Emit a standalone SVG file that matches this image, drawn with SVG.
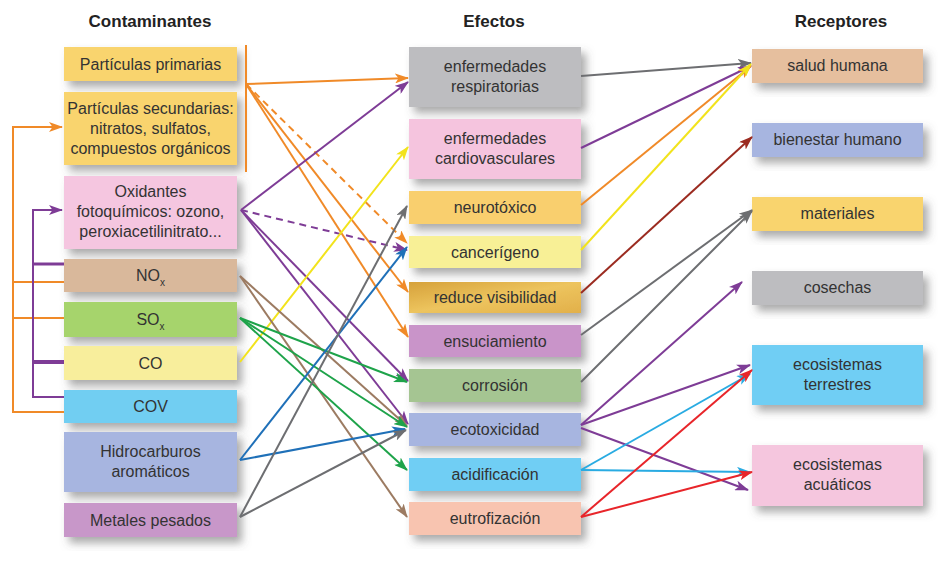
<svg xmlns="http://www.w3.org/2000/svg" width="944" height="566" viewBox="0 0 944 566">
<defs>
<style>
.box{filter:url(#sh)}
.t{font-family:"Liberation Sans",Arial,sans-serif;font-size:16px;fill:#333;text-anchor:middle}
.h{font-family:"Liberation Sans",Arial,sans-serif;font-size:17px;font-weight:bold;fill:#222;text-anchor:middle}
.sub{font-size:10px}
#conn path,#conn line{fill:none;stroke-width:2}
.dash{stroke-dasharray:7 5}
</style>
<filter id="sh" x="-10%" y="-20%" width="130%" height="160%">
<feDropShadow dx="5" dy="6" stdDeviation="4" flood-color="#555" flood-opacity="0.5"/>
</filter>
<linearGradient id="gold" x1="0" y1="0" x2="1" y2="1">
<stop offset="0" stop-color="#D6A13A"/>
<stop offset="0.5" stop-color="#EDC45E"/>
<stop offset="1" stop-color="#E2B04A"/>
</linearGradient>
<marker id="aO" viewBox="0 0 14 10" refX="13" refY="5" markerWidth="14" markerHeight="10" markerUnits="userSpaceOnUse" orient="auto"><path d="M0,0 L14,5 L0,10 L3.5,5 z" fill="#F08A28"/></marker>
<marker id="aP" viewBox="0 0 14 10" refX="13" refY="5" markerWidth="14" markerHeight="10" markerUnits="userSpaceOnUse" orient="auto"><path d="M0,0 L14,5 L0,10 L3.5,5 z" fill="#7E3C96"/></marker>
<marker id="aY" viewBox="0 0 14 10" refX="13" refY="5" markerWidth="14" markerHeight="10" markerUnits="userSpaceOnUse" orient="auto"><path d="M0,0 L14,5 L0,10 L3.5,5 z" fill="#F2E31C"/></marker>
<marker id="aB" viewBox="0 0 14 10" refX="13" refY="5" markerWidth="14" markerHeight="10" markerUnits="userSpaceOnUse" orient="auto"><path d="M0,0 L14,5 L0,10 L3.5,5 z" fill="#9C7B62"/></marker>
<marker id="aG" viewBox="0 0 14 10" refX="13" refY="5" markerWidth="14" markerHeight="10" markerUnits="userSpaceOnUse" orient="auto"><path d="M0,0 L14,5 L0,10 L3.5,5 z" fill="#1EA34A"/></marker>
<marker id="aN" viewBox="0 0 14 10" refX="13" refY="5" markerWidth="14" markerHeight="10" markerUnits="userSpaceOnUse" orient="auto"><path d="M0,0 L14,5 L0,10 L3.5,5 z" fill="#1F70B8"/></marker>
<marker id="aK" viewBox="0 0 14 10" refX="13" refY="5" markerWidth="14" markerHeight="10" markerUnits="userSpaceOnUse" orient="auto"><path d="M0,0 L14,5 L0,10 L3.5,5 z" fill="#6D6E71"/></marker>
<marker id="aD" viewBox="0 0 14 10" refX="13" refY="5" markerWidth="14" markerHeight="10" markerUnits="userSpaceOnUse" orient="auto"><path d="M0,0 L14,5 L0,10 L3.5,5 z" fill="#9B2B20"/></marker>
<marker id="aL" viewBox="0 0 14 10" refX="13" refY="5" markerWidth="14" markerHeight="10" markerUnits="userSpaceOnUse" orient="auto"><path d="M0,0 L14,5 L0,10 L3.5,5 z" fill="#29ABE2"/></marker>
<marker id="aR" viewBox="0 0 14 10" refX="13" refY="5" markerWidth="14" markerHeight="10" markerUnits="userSpaceOnUse" orient="auto"><path d="M0,0 L14,5 L0,10 L3.5,5 z" fill="#E8252A"/></marker>
</defs>
<rect width="944" height="566" fill="#ffffff"/>

<g id="headers">
<text class="h" x="150" y="27">Contaminantes</text>
<text class="h" x="494" y="27">Efectos</text>
<text class="h" x="841" y="27">Receptores</text>
</g>

<!-- Contaminantes -->
<g id="particulas-primarias"><rect class="box" x="64" y="47" width="173" height="34" fill="#F9D46E"/><text class="t" x="150.5" y="69.5">Partículas primarias</text></g>
<g id="particulas-secundarias"><rect class="box" x="64" y="92" width="173" height="73" fill="#F9D46E"/><text class="t" x="150.5" y="114">Partículas secundarias:</text><text class="t" x="150.5" y="134">nitratos, sulfatos,</text><text class="t" x="150.5" y="154">compuestos orgánicos</text></g>
<g id="oxidantes"><rect class="box" x="64" y="176" width="173" height="73" fill="#F5C6E0"/><text class="t" x="150.5" y="197">Oxidantes</text><text class="t" x="150.5" y="217">fotoquímicos: ozono,</text><text class="t" x="150.5" y="237">peroxiacetilinitrato...</text></g>
<g id="nox"><rect class="box" x="64" y="259" width="173" height="33" fill="#D9B89B"/><text class="t" x="150.5" y="281">NO<tspan class="sub" dy="5">x</tspan></text></g>
<g id="sox"><rect class="box" x="64" y="302" width="173" height="35" fill="#A6D46C"/><text class="t" x="150.5" y="325">SO<tspan class="sub" dy="5">x</tspan></text></g>
<g id="co"><rect class="box" x="64" y="346" width="173" height="34" fill="#F8EE9C"/><text class="t" x="150.5" y="369">CO</text></g>
<g id="cov"><rect class="box" x="64" y="390" width="173" height="33" fill="#71CEF2"/><text class="t" x="150.5" y="412">COV</text></g>
<g id="hidrocarburos"><rect class="box" x="64" y="432" width="173" height="60" fill="#A7B5E0"/><text class="t" x="150.5" y="457">Hidrocarburos</text><text class="t" x="150.5" y="477">aromáticos</text></g>
<g id="metales"><rect class="box" x="64" y="503" width="173" height="34" fill="#C897C9"/><text class="t" x="150.5" y="526">Metales pesados</text></g>

<!-- Efectos -->
<g id="enf-resp"><rect class="box" x="409" y="47" width="172" height="60" fill="#BDBDC0"/><text class="t" x="495" y="72">enfermedades</text><text class="t" x="495" y="92">respiratorias</text></g>
<g id="enf-cardio"><rect class="box" x="409" y="119" width="172" height="60" fill="#F5C4DE"/><text class="t" x="495" y="144">enfermedades</text><text class="t" x="495" y="164">cardiovasculares</text></g>
<g id="neurotoxico"><rect class="box" x="409" y="191" width="172" height="33" fill="#F9CF6E"/><text class="t" x="495" y="213">neurotóxico</text></g>
<g id="cancerigeno"><rect class="box" x="409" y="236" width="172" height="32" fill="#F8F096"/><text class="t" x="495" y="258">cancerígeno</text></g>
<g id="reduce-visibilidad"><rect class="box" x="409" y="282" width="172" height="31" fill="url(#gold)"/><text class="t" x="495" y="303">reduce visibilidad</text></g>
<g id="ensuciamiento"><rect class="box" x="409" y="325" width="172" height="32" fill="#C994C9"/><text class="t" x="495" y="347">ensuciamiento</text></g>
<g id="corrosion"><rect class="box" x="409" y="369" width="172" height="33" fill="#A5C592"/><text class="t" x="495" y="391">corrosión</text></g>
<g id="ecotoxicidad"><rect class="box" x="409" y="413" width="172" height="33" fill="#A7B5E0"/><text class="t" x="495" y="435">ecotoxicidad</text></g>
<g id="acidificacion"><rect class="box" x="409" y="458" width="172" height="33" fill="#6FCEF4"/><text class="t" x="495" y="480">acidificación</text></g>
<g id="eutrofizacion"><rect class="box" x="409" y="502" width="172" height="33" fill="#F8C4B0"/><text class="t" x="495" y="524">eutrofización</text></g>

<!-- Receptores -->
<g id="salud-humana"><rect class="box" x="752" y="49" width="171" height="34" fill="#E6BF9E"/><text class="t" x="837.5" y="71">salud humana</text></g>
<g id="bienestar-humano"><rect class="box" x="752" y="123" width="171" height="34" fill="#A7B5E0"/><text class="t" x="837.5" y="145">bienestar humano</text></g>
<g id="materiales"><rect class="box" x="752" y="197" width="171" height="34" fill="#F9D46E"/><text class="t" x="837.5" y="219">materiales</text></g>
<g id="cosechas"><rect class="box" x="752" y="271" width="171" height="34" fill="#BDBDC0"/><text class="t" x="837.5" y="293">cosechas</text></g>
<g id="eco-terrestres"><rect class="box" x="752" y="345" width="171" height="60" fill="#6FCEF4"/><text class="t" x="837.5" y="370">ecosistemas</text><text class="t" x="837.5" y="390">terrestres</text></g>
<g id="eco-acuaticos"><rect class="box" x="752" y="445" width="171" height="61" fill="#F5C6DE"/><text class="t" x="837.5" y="470">ecosistemas</text><text class="t" x="837.5" y="490">acuáticos</text></g>

<g id="conn">
<!-- left brackets -->
<path d="M64,412 H13 V127 H62" stroke="#F08A28" marker-end="url(#aO)"/>
<path d="M13,282 H64 M13,318 H64" stroke="#F08A28"/>
<path d="M64,397 H33 V210 H62" stroke="#7E3C96" marker-end="url(#aP)"/>
<path d="M33,264 H64" stroke="#7E3C96" style="stroke-width:3"/>
<path d="M33,362 H64" stroke="#7E3C96" style="stroke-width:4"/>
<!-- particulas -->
<path d="M246,45 V172" stroke="#F08A28"/>
<path d="M246,84 L408,78" stroke="#F08A28" marker-end="url(#aO)"/>
<path class="dash" d="M246,84 L407,243" stroke="#F08A28" marker-end="url(#aO)"/>
<path d="M246,84 L408,292" stroke="#F08A28" marker-end="url(#aO)"/>
<path d="M246,84 L408,337" stroke="#F08A28" marker-end="url(#aO)"/>
<!-- oxidantes -->
<path d="M241,210 L408,82" stroke="#7E3C96" marker-end="url(#aP)"/>
<path class="dash" d="M241,210 L407,250" stroke="#7E3C96" marker-end="url(#aP)"/>
<path d="M241,210 L408,381" stroke="#7E3C96" marker-end="url(#aP)"/>
<path d="M241,210 L408,424" stroke="#7E3C96" marker-end="url(#aP)"/>
<!-- CO -->
<path d="M240,362 L408,147" stroke="#F2E31C" marker-end="url(#aY)"/>
<!-- NOx -->
<path d="M240,276 L407,426" stroke="#9C7B62" marker-end="url(#aB)"/>
<path d="M240,276 L407,517" stroke="#9C7B62" marker-end="url(#aB)"/>
<!-- SOx -->
<path d="M240,318 L407,382" stroke="#1EA34A" marker-end="url(#aG)"/>
<path d="M240,318 L407,427" stroke="#1EA34A" marker-end="url(#aG)"/>
<path d="M240,318 L407,470" stroke="#1EA34A" marker-end="url(#aG)"/>
<!-- Hidrocarburos -->
<path d="M240,460 L407,247" stroke="#1F70B8" marker-end="url(#aN)"/>
<path d="M240,460 L405,429" stroke="#1F70B8" marker-end="url(#aN)"/>
<!-- Metales -->
<path d="M240,517 L407,206" stroke="#6D6E71" marker-end="url(#aK)"/>
<path d="M240,517 L406,430" stroke="#6D6E71" marker-end="url(#aK)"/>
<!-- efectos -> receptores -->
<path d="M581,76 L751,63" stroke="#6D6E71" marker-end="url(#aK)"/>
<path d="M581,148 L751,66" stroke="#7E3C96" marker-end="url(#aP)"/>
<path d="M581,205 L751,66" stroke="#F08A28" marker-end="url(#aO)"/>
<path d="M581,250 L751,64" stroke="#F2E31C" marker-end="url(#aY)"/>
<path d="M581,293 L752,137" stroke="#9B2B20" marker-end="url(#aD)"/>
<path d="M581,335 L752,210" stroke="#6D6E71" marker-end="url(#aK)"/>
<path d="M581,382 L752,211" stroke="#6D6E71" marker-end="url(#aK)"/>
<path d="M581,425 L742,282" stroke="#7E3C96" marker-end="url(#aP)"/>
<path d="M581,425 L750,365" stroke="#7E3C96" marker-end="url(#aP)"/>
<path d="M581,428 L748,490" stroke="#7E3C96" marker-end="url(#aP)"/>
<path d="M581,470 L750,374" stroke="#29ABE2" marker-end="url(#aL)"/>
<path d="M581,470 L750,472" stroke="#29ABE2" marker-end="url(#aL)"/>
<path d="M581,517 L752,370" stroke="#E8252A" marker-end="url(#aR)"/>
<path d="M581,517 L752,472" stroke="#E8252A" marker-end="url(#aR)"/>
</g>
</svg>
